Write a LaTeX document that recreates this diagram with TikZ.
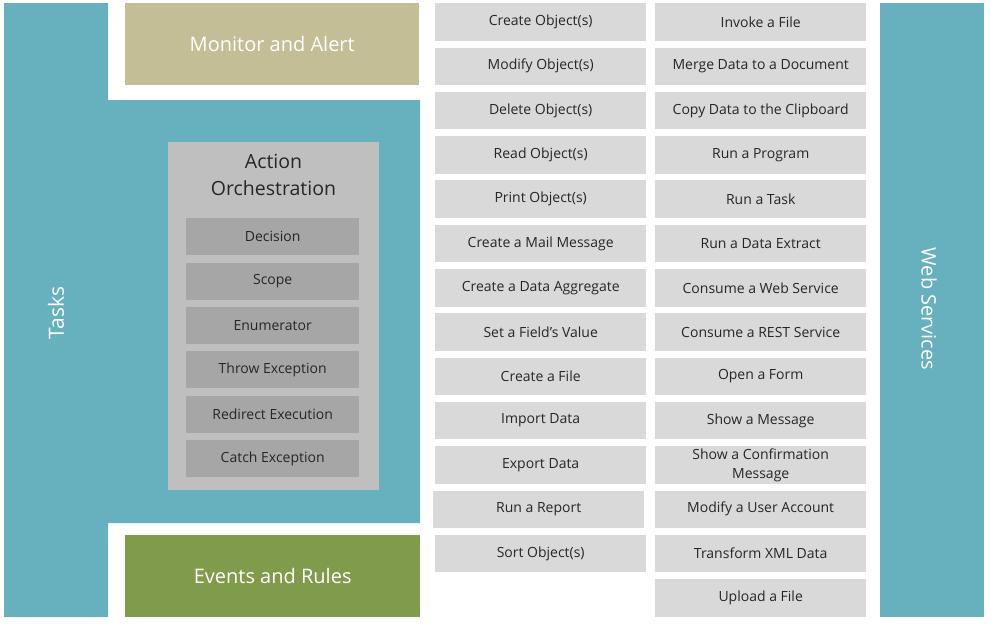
\documentclass[tikz,border=0pt]{standalone}
\usepackage{fontspec}
\setmainfont{Open Sans}
\definecolor{teal1}{HTML}{67B0BE}
\definecolor{khaki1}{HTML}{C4BE96}
\definecolor{olive1}{HTML}{7F9B4B}
\definecolor{lgray}{HTML}{D9D9D9}
\definecolor{mgray}{HTML}{BFBFBF}
\definecolor{dgray}{HTML}{A6A6A6}
\definecolor{txt}{HTML}{262626}
\begin{document}
\begin{tikzpicture}[x=1pt,y=-1pt,
  item/.style={fill=lgray,draw=none,minimum width=211pt,minimum height=37.5pt,inner sep=0pt,
    font=\fontsize{14}{19}\selectfont,text=txt,align=center,anchor=north west},
  inner/.style={fill=dgray,draw=none,minimum width=173pt,minimum height=37pt,inner sep=0pt,
    font=\fontsize{14}{19}\selectfont,text=txt,anchor=north west},
  big/.style={draw=none,inner sep=0pt,text=white,font=\fontsize{20}{24}\selectfont,anchor=north west}]
\useasboundingbox (0,0) rectangle (991,625);
% Tasks L-shape
\fill[teal1] (4,3) -- (108,3) -- (108,100) -- (420,100) -- (420,523) -- (108,523) -- (108,617) -- (4,617) -- cycle;
\node[text=white,font=\fontsize{21}{24}\selectfont,rotate=90] (tasks) at (56,313) {Tasks};
% Monitor and Events
\node[big,fill=khaki1,minimum width=294pt,minimum height=82pt] (mon) at (125,3) {Monitor and Alert};
\node[big,fill=olive1,minimum width=295pt,minimum height=82pt] (evt) at (125,535) {Events and Rules};
% Action Orchestration
\fill[mgray] (168,142) rectangle (379,490);
\node[text=txt,font=\fontsize{19.5}{27}\selectfont,align=center] (act) at (273.5,175) {Action\\Orchestration};
\foreach \t [count=\i from 0] in {Decision,Scope,Enumerator,Throw Exception,Redirect Execution,Catch Exception}{
  \node[inner] (d\i) at (186,{218+44.4*\i}) {\t};
}
% Column 1
\foreach \t [count=\i from 0] in {Create Object(s),Modify Object(s),Delete Object(s),Read Object(s),Print Object(s),Create a Mail Message,Create a Data Aggregate,Set a Field's Value,Create a File,Import Data,Export Data,Run a Report,Sort Object(s)}{
  \pgfmathsetmacro{\xx}{\i==11 ? 433 : 435}
  \node[item] (a\i) at (\xx,{3+44.3*\i}) {\t};
}
% Column 2
\foreach \t [count=\i from 0] in {Invoke a File,Merge Data to a Document,Copy Data to the Clipboard,Run a Program,Run a Task,Run a Data Extract,Consume a Web Service,Consume a REST Service,Open a Form,Show a Message,{Show a Confirmation\\Message},Modify a User Account,Transform XML Data,Upload a File}{
  \node[item] (b\i) at (655,{3+44.3*\i}) {\t};
}
% Web Services bar
\node[fill=teal1,minimum width=104pt,minimum height=614pt,inner sep=0pt,anchor=north west] (ws) at (880,3) {};
\node[text=white,font=\fontsize{20}{24}\selectfont,rotate=-90] (wst) at (929,309) {Web Services};
\end{tikzpicture}
\end{document}
